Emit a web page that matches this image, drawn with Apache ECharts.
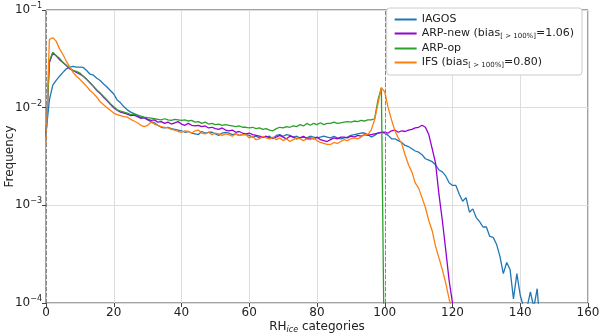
<!DOCTYPE html>
<html>
<head>
<meta charset="utf-8">
<script src="https://cdn.jsdelivr.net/npm/echarts@6/dist/echarts.min.js"></script>
<style>
  html, body { margin: 0; padding: 0; background: #fff; }
  #main { width: 600px; height: 335px; }
</style>
</head>
<body>
<div id="main"></div>
<script>
// RH_ice categories (bin of 1 %)
var rhBins = [];
for (var i = 0; i <= 146; i++) { rhBins.push(i); }

var xTicks = [0, 20, 40, 60, 80, 100, 120, 140, 160];
var yTicks = [1e-4, 1e-3, 1e-2, 1e-1];

// frequencies, one per bin starting at 0
var iagos = [
  0.0055, 0.012, 0.017, 0.019, 0.021, 0.023, 0.025, 0.026, 0.0265, 0.026,
  0.026, 0.0258, 0.024, 0.022, 0.0215, 0.02, 0.019, 0.0175, 0.0163, 0.015,
  0.0138, 0.012, 0.0112, 0.0102, 0.0095, 0.009, 0.0087, 0.0084, 0.0078, 0.0079,
  0.0075, 0.0072, 0.007, 0.0066, 0.0063, 0.0062, 0.0063, 0.0061, 0.006, 0.0059,
  0.0058, 0.0056, 0.0057, 0.0055, 0.0054, 0.0053, 0.0057, 0.0055, 0.0056, 0.0056,
  0.0054, 0.0052, 0.0055, 0.0056, 0.0055, 0.0053, 0.0054, 0.0052, 0.0053, 0.0053,
  0.0052, 0.005, 0.0051, 0.0049, 0.005, 0.005, 0.0051, 0.0048, 0.0052, 0.0053,
  0.0051, 0.0053, 0.0052, 0.005, 0.0051, 0.0049, 0.005, 0.0049, 0.0051, 0.005,
  0.0049, 0.005, 0.0051, 0.005, 0.0049, 0.0051, 0.0049, 0.0048, 0.0049, 0.005,
  0.0052, 0.0053, 0.0054, 0.0055, 0.0055, 0.0053, 0.005, 0.0052, 0.0055, 0.0056,
  0.0055, 0.0052, 0.0048, 0.0048, 0.0046, 0.0044, 0.0041, 0.004, 0.0038, 0.0036,
  0.0035, 0.0033, 0.003, 0.0029, 0.0028, 0.0026, 0.0023, 0.0022, 0.002, 0.0017,
  0.0016, 0.0016, 0.0013, 0.0011, 0.0012, 0.00085, 0.00092, 0.00075, 0.00068, 0.0006,
  0.0006, 0.00048, 0.00047, 0.0004, 0.0003, 0.0002, 0.00026, 0.00022, 0.00011, 0.0002,
  0.00012, 0.00009, 0.00009, 0.00013, 0.00009, 0.00014, 0.00005
];

var arpNew = [
  0.005, 0.029, 0.036, 0.034, 0.031, 0.029, 0.027, 0.025, 0.024, 0.023,
  0.022, 0.021, 0.0195, 0.018, 0.0165, 0.015, 0.014, 0.0128, 0.0118, 0.0108,
  0.01, 0.0094, 0.009, 0.0088, 0.0086, 0.0083, 0.0084, 0.0081, 0.0078, 0.0079,
  0.0076, 0.0074, 0.0075, 0.0071, 0.0072, 0.0069, 0.0071, 0.0068, 0.007, 0.0072,
  0.0068, 0.0066, 0.0069, 0.0066, 0.0065, 0.0066, 0.0064, 0.0065, 0.0062, 0.0063,
  0.0061, 0.006, 0.0062, 0.0059, 0.0058, 0.0059, 0.0056, 0.0057, 0.0055, 0.0054,
  0.0055, 0.0053, 0.0052, 0.0051, 0.005, 0.0051, 0.0049, 0.0049, 0.005, 0.0052,
  0.005, 0.0048, 0.0051, 0.005, 0.0048, 0.0049, 0.0051, 0.0048, 0.0049, 0.0048,
  0.005, 0.0047, 0.0046, 0.0045, 0.0047, 0.0049, 0.0048, 0.005, 0.005, 0.0049,
  0.0051, 0.005, 0.0052, 0.0051, 0.0053, 0.0052, 0.0053, 0.0054, 0.0055, 0.0056,
  0.0056, 0.0055, 0.0058, 0.0059, 0.0056, 0.0058, 0.0057, 0.0059, 0.006, 0.0062,
  0.0063, 0.0066, 0.0063, 0.0053, 0.0038, 0.0027, 0.0013, 0.0007, 0.00035, 0.00017,
  0.0001
];

var arpOp = [
  0.005, 0.03, 0.037, 0.034, 0.032, 0.029, 0.027, 0.0255, 0.024, 0.0235,
  0.0226, 0.021, 0.0195, 0.018, 0.0165, 0.0152, 0.0141, 0.013, 0.012, 0.011,
  0.0102, 0.0095, 0.0092, 0.009, 0.0088, 0.0085, 0.0086, 0.0084, 0.0082, 0.008,
  0.0079, 0.0078, 0.0077, 0.0076, 0.0075, 0.0077, 0.0075, 0.0074, 0.0076, 0.0075,
  0.0074, 0.0075, 0.0073, 0.0074, 0.0071, 0.0072, 0.0069, 0.0071, 0.0068, 0.0069,
  0.0067, 0.0068, 0.0066, 0.0067, 0.0066, 0.0065, 0.0064, 0.0065, 0.0063, 0.0063,
  0.0062, 0.0063, 0.0061, 0.0062, 0.006, 0.0061, 0.0059, 0.0058, 0.0061, 0.0063,
  0.0062, 0.0064, 0.0063, 0.0065, 0.0064, 0.0067, 0.0065, 0.0069, 0.0066, 0.0069,
  0.0067, 0.007, 0.0067, 0.0069, 0.0069, 0.0071, 0.0069, 0.007, 0.0071, 0.0072,
  0.0071, 0.0073, 0.0072, 0.0074, 0.0073, 0.0075, 0.0075, 0.0077, 0.012, 0.016,
  0.00001
];

var ifs = [
  0.0043, 0.05, 0.052, 0.048, 0.04, 0.035, 0.03, 0.026, 0.023, 0.021,
  0.0195, 0.018, 0.0165, 0.015, 0.014, 0.0128, 0.0115, 0.0107, 0.01, 0.0094,
  0.0088, 0.0085, 0.0083, 0.0081, 0.008, 0.0076, 0.0073, 0.007, 0.0066, 0.0064,
  0.0066, 0.0071, 0.0068, 0.0066, 0.0064, 0.0063, 0.0062, 0.006, 0.0059, 0.0057,
  0.0056, 0.0058, 0.0057, 0.0055, 0.0058, 0.0059, 0.0055, 0.0054, 0.0056, 0.0053,
  0.0055, 0.0054, 0.0052, 0.0054, 0.0053, 0.0051, 0.0054, 0.0052, 0.0053, 0.0053,
  0.0049, 0.0051, 0.0047, 0.0048, 0.0051, 0.0049, 0.0048, 0.005, 0.0047, 0.0049,
  0.0046, 0.0048, 0.0045, 0.0047, 0.0049, 0.0048, 0.0046, 0.0048, 0.0047, 0.0049,
  0.0046, 0.0044, 0.0043, 0.0042, 0.0042, 0.0044, 0.0043, 0.0045, 0.0047, 0.0046,
  0.0048, 0.0049, 0.0048, 0.005, 0.0053, 0.0053, 0.0059, 0.0075, 0.011, 0.016,
  0.0145, 0.01, 0.0075, 0.0058, 0.0049, 0.0043, 0.0033, 0.0026, 0.0022, 0.0017,
  0.0015, 0.0012, 0.00095, 0.0007, 0.00055, 0.00038, 0.00029, 0.00022, 0.00016, 0.00011,
  0.00008
];

var refLines = [0, 100];

function pairs(vals) {
  var out = [];
  for (var k = 0; k < vals.length; k++) { out.push([rhBins[k], vals[k]]); }
  return out;
}

var font = 'DejaVu Sans';
var chart = echarts.init(document.getElementById('main'));

function lineSeries(name, vals, color) {
  return {
    name: name,
    type: 'line',
    data: pairs(vals),
    showSymbol: false,
    clip: true,
    lineStyle: { color: color, width: 1.3 },
    itemStyle: { color: color }
  };
}

var series = [
  lineSeries('IAGOS', iagos, '#1f77b4'),
  lineSeries('ARP-new', arpNew, '#9400d3'),
  lineSeries('ARP-op', arpOp, '#2ca02c'),
  lineSeries('IFS', ifs, '#ff7f0e')
];
series[0].markLine = {
  silent: true,
  symbol: 'none',
  label: { show: false },
  lineStyle: { color: '#888', type: 'dashed', width: 1 },
  data: refLines.map(function (v) { return { xAxis: v }; })
};

var option = {
  animation: false,
  textStyle: { fontFamily: font },
  grid: {
    left: 46, right: 12, top: 10, bottom: 32,
    containLabel: false,
    outerBoundsMode: 'none',
    show: true, borderColor: '#444', borderWidth: 1
  },
  legend: {
    orient: 'vertical',
    right: 18, top: 8,
    padding: [6, 8, 6, 8],
    itemGap: 3,
    itemWidth: 22, itemHeight: 2,
    icon: 'rect',
    borderColor: '#ccc', borderWidth: 1, borderRadius: 3,
    backgroundColor: '#fff',
    data: ['IAGOS', 'ARP-new', 'ARP-op', 'IFS'],
    formatter: function (name) {
      if (name === 'ARP-new') return '{n|ARP-new (bias}{s|[ > 100%]}{n|=1.06)}';
      if (name === 'IFS') return '{n|IFS (bias}{s|[ > 100%]}{n|=0.80)}';
      return '{n|' + name + '}';
    },
    textStyle: {
      fontFamily: font,
      color: '#222',
      rich: {
        n: { fontSize: 11, fontFamily: font, color: '#222', lineHeight: 13 },
        s: { fontSize: 7, fontFamily: font, color: '#222', verticalAlign: 'bottom', lineHeight: 13, padding: [4, 0, 0, 0] }
      }
    }
  },
  xAxis: {
    type: 'value',
    min: 0, max: 160, interval: 20,
    name: '{a|RH}{b|ice}{a| categories}',
    nameLocation: 'middle',
    nameGap: 17,
    nameMoveOverlap: false,
    nameTextStyle: {
      rich: {
        a: { fontSize: 12, fontFamily: font, color: '#222' },
        b: { fontSize: 8, fontFamily: font, fontStyle: 'italic', color: '#222', verticalAlign: 'bottom', padding: [6, 0, 0, 0] }
      }
    },
    axisLine: { show: false },
    axisTick: { show: true, length: 4, lineStyle: { color: '#444' } },
    axisLabel: { fontSize: 12, color: '#222', margin: 4, fontFamily: font,
      formatter: function (v) { return xTicks.indexOf(v) >= 0 ? String(v) : ''; } },
    splitLine: { show: true, lineStyle: { color: '#ddd', width: 1 } }
  },
  yAxis: {
    type: 'log',
    logBase: 10,
    min: yTicks[0], max: yTicks[yTicks.length - 1],
    name: 'Frequency',
    nameLocation: 'middle',
    nameGap: 30,
    nameMoveOverlap: false,
    nameTextStyle: { fontSize: 12, color: '#222', fontFamily: font },
    axisLine: { show: false },
    axisTick: { show: true, length: 4, lineStyle: { color: '#444' } },
    minorTick: { show: false },
    axisLabel: {
      margin: 4,
      formatter: function (v) {
        var e = Math.round(Math.log(v) / Math.LN10);
        return '{b|10}{s|\u2212' + (-e) + '}';
      },
      rich: {
        b: { fontSize: 12, fontFamily: font, color: '#222' },
        s: { fontSize: 8, fontFamily: font, color: '#222', verticalAlign: 'top', padding: [0, 0, 8, 0] }
      }
    },
    splitLine: { show: true, lineStyle: { color: '#ddd', width: 1 } }
  },
  series: series
};

chart.setOption(option);
</script>
</body>
</html>
